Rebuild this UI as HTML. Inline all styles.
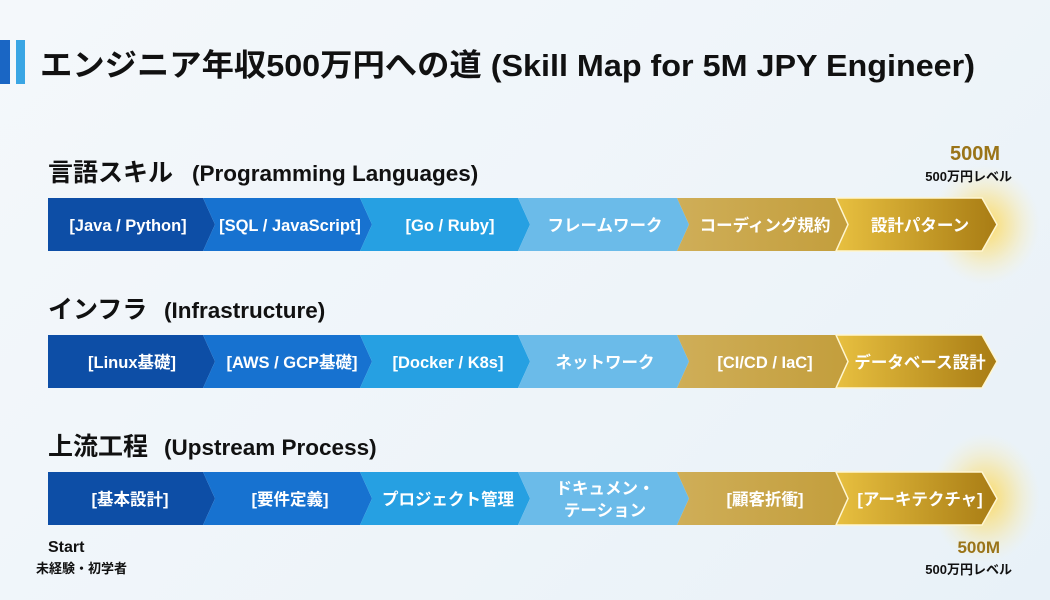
<!DOCTYPE html>
<html><head><meta charset="utf-8"><style>
body{margin:0;width:1050px;height:600px;overflow:hidden;background:linear-gradient(135deg,#f4f8fb,#eef4f9 60%,#e8f1f8);font-family:"Liberation Sans","Noto Sans CJK JP",sans-serif;}
svg{position:absolute;left:0;top:0}
</style></head><body>
<svg width="1050" height="600" viewBox="0 0 1050 600">
<defs>
<radialGradient id="glow"><stop offset="0" stop-color="#ffd23a" stop-opacity="0.8"/><stop offset="0.5" stop-color="#ffdc60" stop-opacity="0.4"/><stop offset="1" stop-color="#fff0b0" stop-opacity="0"/></radialGradient>
<linearGradient id="g6" x1="0" x2="1"><stop offset="0" stop-color="#e8c040"/><stop offset="1" stop-color="#a87c14"/></linearGradient>
<linearGradient id="g5" x1="0" x2="1"><stop offset="0" stop-color="#cfae58"/><stop offset="1" stop-color="#c39e3c"/></linearGradient>
</defs>
<rect x="0" y="40" width="10" height="44" fill="#1a66c4"/>
<rect x="16" y="40" width="9" height="44" fill="#3aa6e4"/>
<text x="40" y="76" font-size="31" font-weight="bold" fill="#111" textLength="935" lengthAdjust="spacingAndGlyphs">エンジニア年収500万円への道 (Skill Map for 5M JPY Engineer)</text>
<ellipse cx="985" cy="225" rx="55" ry="60" fill="url(#glow)"/>
<ellipse cx="985" cy="498" rx="55" ry="65" fill="url(#glow)"/>
<g font-weight="bold" fill="#111">
<text x="48" y="181" font-size="25">言語スキル</text><text x="192" y="181" font-size="22.5">(Programming Languages)</text>
<text x="48" y="318" font-size="25">インフラ</text><text x="164" y="318" font-size="22.5">(Infrastructure)</text>
<text x="48" y="455" font-size="25">上流工程</text><text x="164" y="455" font-size="22.5">(Upstream Process)</text>
</g>
<text x="1000" y="160" font-size="20" font-weight="bold" fill="#9a7418" text-anchor="end">500M</text>
<text x="1012" y="181" font-size="13" font-weight="bold" fill="#111" text-anchor="end">500万円レベル</text>
<text x="1000" y="553" font-size="17" font-weight="bold" fill="#9a7418" text-anchor="end">500M</text>
<text x="1012" y="574" font-size="13" font-weight="bold" fill="#111" text-anchor="end">500万円レベル</text>
<text x="48" y="552" font-size="16" font-weight="bold" fill="#111">Start</text>
<text x="36" y="573" font-size="13" font-weight="bold" fill="#111">未経験・初学者</text>

<g id="row1">
<polygon points="48,198 203,198 215,224.5 203,251 48,251" fill="#0d4ea6"/>
<polygon points="203,198 360,198 372,224.5 360,251 203,251 215,224.5" fill="#1772d0"/>
<polygon points="360,198 518,198 530,224.5 518,251 360,251 372,224.5" fill="#26a0e2"/>
<polygon points="518,198 677,198 689,224.5 677,251 518,251 530,224.5" fill="#6bbbe9"/>
<polygon points="677,198 836,198 848,224.5 836,251 677,251 689,224.5" fill="url(#g5)"/>
<polygon points="836,198 982,198 997,224.5 982,251 836,251 848,224.5" fill="url(#g6)" stroke="#fff6d0" stroke-width="1.5"/>
</g>
<g fill="#fff" font-size="16.5" font-weight="bold" text-anchor="middle">
<text x="128" y="231">[Java / Python]</text><text x="290" y="231">[SQL / JavaScript]</text><text x="450" y="231">[Go / Ruby]</text><text x="605" y="231">フレームワーク</text><text x="765" y="231">コーディング規約</text><text x="920" y="231">設計パターン</text>
</g>
<use href="#row1" y="137"/>
<g fill="#fff" font-size="16.5" font-weight="bold" text-anchor="middle">
<text x="132" y="368">[Linux基礎]</text><text x="292" y="368">[AWS / GCP基礎]</text><text x="448" y="368">[Docker / K8s]</text><text x="605" y="368">ネットワーク</text><text x="765" y="368">[CI/CD / IaC]</text><text x="920" y="368">データベース設計</text>
</g>
<use href="#row1" y="274"/>
<g fill="#fff" font-size="16.5" font-weight="bold" text-anchor="middle">
<text x="130" y="505">[基本設計]</text><text x="290" y="505">[要件定義]</text><text x="448" y="505">プロジェクト管理</text><text x="605" y="494">ドキュメン・</text><text x="605" y="516">テーション</text><text x="765" y="505">[顧客折衝]</text><text x="920" y="505">[アーキテクチャ]</text>
</g>
</svg>
</body></html>
